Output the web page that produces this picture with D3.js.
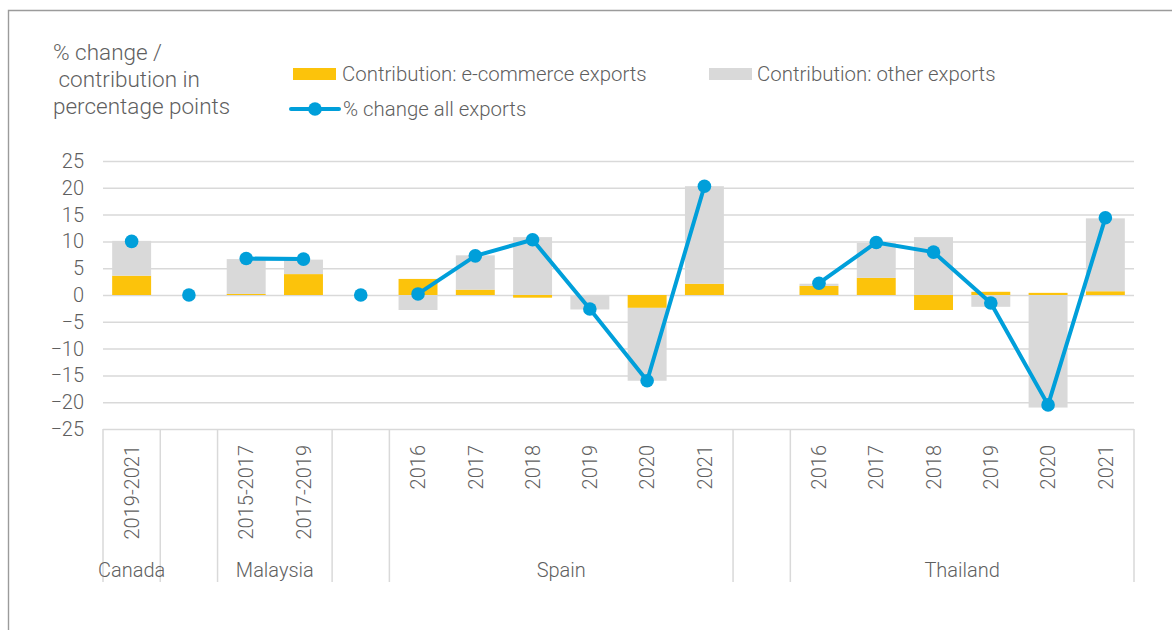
<!DOCTYPE html>
<html>
<head>
<meta charset="utf-8">
<script src="https://cdn.jsdelivr.net/npm/d3@7"></script>
<style>
  body { margin: 0; background: #fff; }
  svg text { font-family: Roboto, "Liberation Sans", Arial, sans-serif; font-weight: 300; fill: #5f5f5f; }
</style>
</head>
<body>
<svg id="chart" width="1172" height="630"></svg>
<script>
// categories along the x axis (one slot each, "" = empty spacer slot)
const categories = ["2019-2021", "", "2015-2017", "2017-2019", "",
  "2016", "2017", "2018", "2019", "2020", "2021", "",
  "2016", "2017", "2018", "2019", "2020", "2021"];
// second level of the axis
const groupNames = ["Canada", "", "Malaysia", "", "Spain", "", "Thailand"];
const groupSizes = [1, 1, 2, 1, 6, 1, 6];

// series values (percentage points)
const ecommerce = [3.6, null, 0.2, 3.9, null, 3.0, 1.0, -0.5, 0.0, -2.4, 2.1, null, 1.7, 3.2, -2.8, 0.6, 0.4, 0.7];
const otherExports = [6.5, null, 6.5, 2.7, null, -2.8, 6.4, 10.8, -2.7, -13.6, 18.2, null, 0.4, 6.5, 10.8, -2.2, -21.0, 13.6];
const pctChange = [10.0, 0, 6.8, 6.7, 0, 0.2, 7.3, 10.3, -2.6, -16.0, 20.3, null, 2.2, 9.8, 8.0, -1.5, -20.5, 14.4];

const yTicks = [25, 20, 15, 10, 5, 0, -5, -10, -15, -20, -25];
const titleLines = ["% change /", " contribution in", "percentage points"];

const colors = { ecom: "#fcc30b", other: "#d9d9d9", line: "#009fda", grid: "#d9d9d9" };

const svg = d3.select("#chart");
const plotLeft = 103, plotRight = 1134, plotTop = 161, plotBottom = 429;

// outer frame (cut at right and bottom edges like the source)
svg.append("path")
  .attr("d", `M8.5,630 V10.5 H1172`)
  .attr("fill", "none").attr("stroke", "#9b9b9b").attr("stroke-width", 1.4);

const idx = d3.range(categories.length);
const x = d3.scaleBand().domain(idx).range([plotLeft, plotRight]).paddingInner(0.32).paddingOuter(0.16);
const y = d3.scaleLinear().domain([-25, 25]).range([plotBottom, plotTop]);

// y axis + gridlines
const yAxis = svg.append("g").attr("transform", `translate(${plotLeft},0)`)
  .call(d3.axisLeft(y).tickValues(yTicks).tickSize(-(plotRight - plotLeft)).tickPadding(19));
yAxis.select(".domain").remove();
yAxis.attr("font-family", null).attr("font-size", 20);
yAxis.selectAll(".tick line").attr("stroke", colors.grid).attr("stroke-width", 1.5);
yAxis.selectAll(".tick text").attr("fill", null);

// stacked bars (positives up, negatives down)
const rows = idx.map(i => ({ i, ecom: ecommerce[i] || 0, other: otherExports[i] || 0 }));
const stack = d3.stack().keys(["ecom", "other"]).offset(d3.stackOffsetDiverging);
const series = stack(rows);
svg.append("g").selectAll("g").data(series).join("g")
  .attr("fill", s => colors[s.key])
  .selectAll("rect").data(s => s).join("rect")
  .attr("x", d => x(d.data.i))
  .attr("width", x.bandwidth())
  .attr("y", d => y(Math.max(d[0], d[1])))
  .attr("height", d => Math.abs(y(d[0]) - y(d[1])));

// line segments, drawn within each group only
const groupStarts = groupSizes.map((s, k) => d3.sum(groupSizes.slice(0, k)));
const line = d3.line()
  .x(i => x(i) + x.bandwidth() / 2)
  .y(i => y(pctChange[i]));
groupStarts.forEach((st, k) => {
  const pts = d3.range(st, st + groupSizes[k]).filter(i => pctChange[i] != null);
  if (pts.length > 1) {
    svg.append("path").attr("d", line(pts))
      .attr("fill", "none").attr("stroke", colors.line).attr("stroke-width", 4)
      .attr("stroke-linejoin", "round");
  }
});
svg.append("g").selectAll("circle")
  .data(idx.filter(i => pctChange[i] != null)).join("circle")
  .attr("cx", i => x(i) + x.bandwidth() / 2)
  .attr("cy", i => y(pctChange[i]))
  .attr("r", 6.8)
  .attr("fill", colors.line);

// category axis: rotated labels
const xAxis = svg.append("g").attr("transform", `translate(0,${plotBottom})`)
  .call(d3.axisBottom(x).tickSize(0).tickFormat(i => categories[i]));
xAxis.select(".domain").remove();
xAxis.attr("font-family", null).attr("font-size", 20);
xAxis.selectAll(".tick text")
  .attr("fill", null)
  .attr("transform", "rotate(-90)")
  .attr("x", -16).attr("y", 0).attr("dy", "0.36em")
  .style("text-anchor", "end");

// group dividers and names
const step = x.step();
const edges = groupStarts.concat([categories.length]);
svg.append("g").selectAll("line").data(edges).join("line")
  .attr("x1", e => plotLeft + e * step).attr("x2", e => plotLeft + e * step)
  .attr("y1", plotBottom).attr("y2", 582)
  .attr("stroke", colors.grid).attr("stroke-width", 1.5);
svg.append("g").selectAll("text").data(groupNames).join("text")
  .attr("x", (g, k) => plotLeft + (groupStarts[k] + groupSizes[k] / 2) * step)
  .attr("y", 577)
  .attr("text-anchor", "middle")
  .attr("font-size", 20)
  .text(g => g);

// axis title
svg.append("g").selectAll("text").data(titleLines).join("text")
  .attr("x", 53).attr("y", (t, k) => 60 + k * 27)
  .attr("font-size", 22.5)
  .style("white-space", "pre")
  .text(t => t);

// legend
const lg = svg.append("g");
lg.append("rect").attr("x", 293).attr("y", 68).attr("width", 43).attr("height", 12).attr("fill", colors.ecom);
lg.append("text").attr("x", 342).attr("y", 81).attr("font-size", 20.4).text("Contribution: e-commerce exports");
lg.append("rect").attr("x", 709).attr("y", 68).attr("width", 43).attr("height", 12).attr("fill", colors.other);
lg.append("text").attr("x", 757).attr("y", 81).attr("font-size", 20.4).text("Contribution: other exports");
lg.append("line").attr("x1", 291).attr("x2", 339).attr("y1", 109).attr("y2", 109)
  .attr("stroke", colors.line).attr("stroke-width", 4).attr("stroke-linecap", "round");
lg.append("circle").attr("cx", 315).attr("cy", 109).attr("r", 6.8).attr("fill", colors.line);
lg.append("text").attr("x", 343).attr("y", 116).attr("font-size", 20.4).text("% change all exports");
</script>
</body>
</html>
